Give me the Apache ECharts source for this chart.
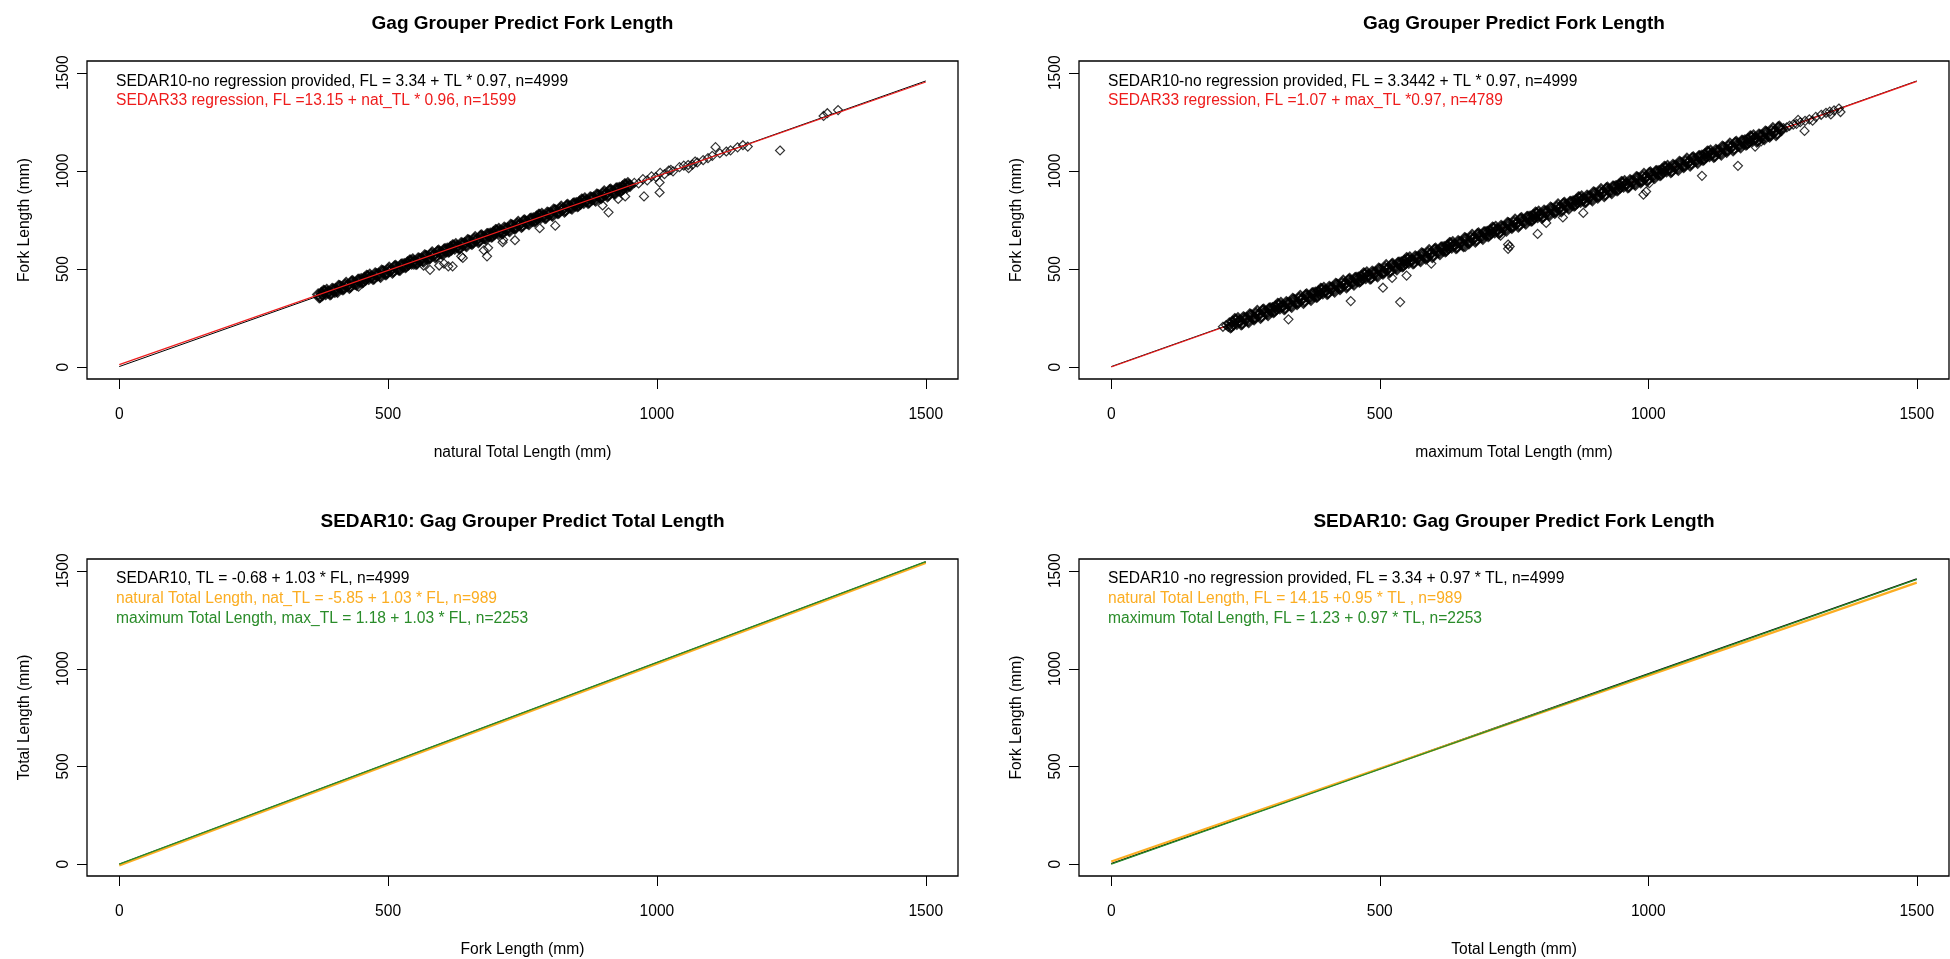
<!DOCTYPE html>
<html>
<head>
<meta charset="utf-8">
<script src="https://cdn.jsdelivr.net/npm/echarts@6/dist/echarts.min.js"></script>
<style>
html,body{margin:0;padding:0;background:#fff;}
#chart{width:1950px;height:959px;}
</style>
</head>
<body>
<div id="chart"></div>
<script>
// ---------------- data ----------------
const tickValues = [0, 500, 1000, 1500];

// Panel 1: natural TL vs FL (scatter)
const natBand = [[370,370],[374,359],[378,368],[382,387],[386,393],[390,381],[394,375],[398,396],[402,397],[406,384],
[410,412],[414,401],[418,402],[422,429],[426,418],[430,411],[434,438],[438,427],[442,420],[446,446],
[450,448],[454,436],[458,445],[462,464],[466,471],[470,459],[474,453],[478,474],[482,475],[486,461],
[490,489],[494,478],[498,480],[502,507],[506,496],[510,489],[514,516],[518,504],[522,497],[526,523],
[530,525],[534,514],[538,523],[542,542],[546,549],[550,537],[554,530],[558,551],[562,552],[566,539],
[570,567],[574,556],[578,558],[582,585],[586,573],[590,566],[594,593],[598,582],[602,575],[606,601],
[610,603],[614,592],[618,600],[622,619],[626,626],[630,614],[634,608],[638,629],[642,630],[646,617],
[650,645],[654,633],[658,635],[662,662],[666,651],[670,644],[674,671],[678,660],[682,653],[686,678],
[690,680],[694,669],[698,678],[702,697],[706,704],[710,692],[714,686],[718,706],[722,707],[726,694],
[730,722],[734,711],[738,713],[742,740],[746,729],[750,721],[754,748],[758,737],[762,730],[766,756],
[770,758],[774,747],[778,756],[782,775],[786,781],[790,769],[794,763],[798,784],[802,785],[806,772],
[810,800],[814,789],[818,790],[822,817],[826,806],[830,799],[834,826],[838,815],[842,808],[846,834],
[850,836],[854,824],[858,833],[862,852],[866,859],[870,847],[874,841],[878,862],[882,863],[886,849],
[890,877],[894,866],[898,868],[902,895],[906,884],[910,877],[914,904],[918,892],[922,885],[926,911],
[930,913],[934,902],[938,911],[942,930],[946,937],[950,924]];
const natBand2 = [[372,356],[376,378],[380,388],[384,373],[388,383],[392,372],[396,399],[400,391],[404,389],[408,414],
[412,409],[416,397],[420,419],[424,415],[428,405],[432,435],[436,431],[440,425],[444,444],[448,436],
[452,433],[456,455],[460,465],[464,450],[468,461],[472,450],[476,477],[480,469],[484,467],[488,491],
[492,486],[496,474],[500,497],[504,493],[508,483],[512,513],[516,509],[520,502],[524,521],[528,513],
[532,511],[536,533],[540,543],[544,528],[548,539],[552,527],[556,554],[560,546],[564,544],[568,569],
[572,564],[576,552],[580,575],[584,571],[588,560],[592,590],[596,586],[600,580],[604,599],[608,591],
[612,589],[616,611],[620,620],[624,605],[628,616],[632,605],[636,632],[640,624],[644,622],[648,647],
[652,641],[656,629],[660,652],[664,648],[668,638],[672,668],[676,664],[680,658],[684,677],[688,668],
[692,666],[696,688],[700,698],[704,683],[708,694],[712,683],[716,710],[720,701],[724,699],[728,724],
[732,719],[736,707],[740,730],[744,726],[748,716],[752,745],[756,741],[760,735],[764,754],[768,746],
[772,744],[776,766],[780,776],[784,761],[788,771],[792,760],[796,787],[800,779],[804,777],[808,802],
[812,797],[816,785],[820,807],[824,803],[828,793],[832,823],[836,819],[840,813],[844,832],[848,824],
[852,821],[856,843],[860,853],[864,838],[868,849],[872,838],[876,865],[880,857],[884,855],[888,879],
[892,874],[896,862],[900,885],[904,881],[908,871],[912,901],[916,897],[920,890],[924,909],[928,901],
[932,899],[936,921],[940,931],[944,916],[948,927]];
const natSparse = [[958,939],[966,936],[974,958],[982,952],[990,972],[998,969],[1006,990],[1014,983],[1022,1002],[1030,998],
[1042,1019],[1050,1027],[1058,1030],[1066,1032],[1075,1043],[1086,1055],[1095,1065],[1103,1077],[1109,1121],[1117,1090],
[1129,1099],[1137,1105],[1150,1120],[1160,1131],[1169,1124],[1229,1104],[1310,1280],[1317,1294],[1337,1310]];
const natOutliers = [[1005,941],[1005,890],[976,870],[941,870],[928,857],[910,789],[899,824],[1026,1005],[1059,1014],[1071,1048],
[811,721],[782,708],[736,647],[714,650],[713,637],[686,608],[684,565],[678,596],[639,557],[636,565],
[620,514],[612,514],[604,528],[595,518],[578,496],[566,518],[445,410],[401,379],[520,492],[548,522]];
const natLineSedar10 = [[0,3.34],[1500,1458.3]];
const natLineSedar33 = [[0,13.15],[1500,1453.2]];

// Panel 2: maximum TL vs FL
const maxBand = [[220,223],[224,207],[228,218],[232,242],[236,249],[240,233],[244,223],[248,249],[252,249],[256,230],
[260,266],[264,250],[268,252],[272,286],[276,270],[280,260],[284,293],[288,277],[292,266],[296,299],
[300,301],[304,285],[308,296],[312,320],[316,327],[320,310],[324,300],[328,326],[332,327],[336,308],
[340,344],[344,328],[348,330],[352,363],[356,347],[360,337],[364,371],[368,355],[372,344],[376,377],
[380,379],[384,362],[388,373],[392,397],[396,404],[400,388],[404,378],[408,404],[412,405],[416,386],
[420,421],[424,405],[428,407],[432,441],[436,425],[440,415],[444,449],[448,433],[452,421],[456,454],
[460,456],[464,440],[468,451],[472,475],[476,482],[480,466],[484,455],[488,481],[492,482],[496,463],
[500,499],[504,483],[508,485],[512,519],[516,503],[520,492],[524,526],[528,510],[532,499],[536,532],
[540,534],[544,518],[548,529],[552,552],[556,559],[560,543],[564,533],[568,559],[572,560],[576,541],
[580,577],[584,560],[588,562],[592,596],[596,580],[600,570],[604,604],[608,588],[612,577],[616,610],
[620,611],[624,595],[628,606],[632,630],[636,637],[640,621],[644,611],[648,637],[652,637],[656,618],
[660,654],[664,638],[668,640],[672,674],[676,658],[680,648],[684,681],[688,665],[692,654],[696,687],
[700,689],[704,673],[708,684],[712,708],[716,715],[720,698],[724,688],[728,714],[732,715],[736,696],
[740,732],[744,716],[748,718],[752,751],[756,735],[760,725],[764,759],[768,743],[772,732],[776,765],
[780,767],[784,750],[788,761],[792,785],[796,792],[800,776],[804,766],[808,792],[812,793],[816,774],
[820,809],[824,793],[828,795],[832,829],[836,813],[840,803],[844,837],[848,821],[852,809],[856,842],
[860,844],[864,828],[868,839],[872,863],[876,870],[880,854],[884,844],[888,869],[892,870],[896,851],
[900,887],[904,871],[908,873],[912,907],[916,891],[920,880],[924,914],[928,898],[932,887],[936,920],
[940,922],[944,906],[948,917],[952,940],[956,947],[960,931],[964,921],[968,947],[972,948],[976,929],
[980,965],[984,949],[988,950],[992,984],[996,968],[1000,958],[1004,992],[1008,976],[1012,965],[1016,998],
[1020,999],[1024,983],[1028,994],[1032,1018],[1036,1025],[1040,1009],[1044,999],[1048,1025],[1052,1025],[1056,1006],
[1060,1042],[1064,1026],[1068,1028],[1072,1062],[1076,1046],[1080,1036],[1084,1069],[1088,1053],[1092,1042],[1096,1075],
[1100,1077],[1104,1061],[1108,1072],[1112,1096],[1116,1103],[1120,1086],[1124,1076],[1128,1102],[1132,1103],[1136,1084],
[1140,1120],[1144,1104],[1148,1106],[1152,1139],[1156,1123],[1160,1113],[1164,1147],[1168,1131],[1172,1120],[1176,1153],
[1180,1155],[1184,1139],[1188,1149],[1192,1173],[1196,1180],[1200,1164],[1204,1154],[1208,1180],[1212,1181],[1216,1162],
[1220,1197],[1224,1181],[1228,1183],[1232,1217],[1236,1201],[1240,1191],[1244,1225],[1248,1209]];
const maxBand2 = [[222,203],[226,231],[230,244],[234,222],[238,235],[242,219],[246,254],[250,242],[254,237],[258,269],
[262,261],[266,244],[270,273],[274,267],[278,252],[282,290],[286,283],[290,274],[294,298],[298,285],
[302,281],[306,309],[310,322],[314,300],[318,312],[322,296],[326,331],[330,319],[334,315],[338,347],
[342,339],[346,322],[350,351],[354,344],[358,329],[362,367],[366,361],[370,352],[374,376],[378,363],
[382,359],[386,386],[390,399],[394,377],[398,390],[402,374],[406,409],[410,397],[414,393],[418,424],
[422,416],[426,399],[430,428],[434,422],[438,407],[442,445],[446,439],[450,430],[454,453],[458,440],
[462,436],[466,464],[470,477],[474,455],[478,468],[482,452],[486,486],[490,474],[494,470],[498,502],
[502,494],[506,477],[510,506],[514,500],[518,484],[522,522],[526,516],[530,507],[534,531],[538,518],
[542,514],[546,542],[550,555],[554,532],[558,545],[562,529],[566,564],[570,552],[574,548],[578,580],
[582,572],[586,554],[590,583],[594,577],[598,562],[602,600],[606,594],[610,585],[614,609],[618,595],
[622,591],[626,619],[630,632],[634,610],[638,623],[642,607],[646,642],[650,630],[654,625],[658,657],
[662,649],[666,632],[670,661],[674,655],[678,640],[682,678],[686,671],[690,662],[694,686],[698,673],
[702,669],[706,697],[710,710],[714,688],[718,700],[722,684],[726,719],[730,707],[734,703],[738,735],
[742,727],[746,710],[750,739],[754,732],[758,717],[762,755],[766,749],[770,740],[774,764],[778,751],
[782,747],[786,774],[790,787],[794,765],[798,778],[802,762],[806,797],[810,785],[814,781],[818,812],
[822,804],[826,787],[830,816],[834,810],[838,795],[842,833],[846,827],[850,818],[854,841],[858,828],
[862,824],[866,852],[870,865],[874,843],[878,856],[882,840],[886,874],[890,862],[894,858],[898,890],
[902,882],[906,865],[910,894],[914,888],[918,872],[922,910],[926,904],[930,895],[934,919],[938,906],
[942,902],[946,930],[950,943],[954,920],[958,933],[962,917],[966,952],[970,940],[974,936],[978,968],
[982,960],[986,942],[990,971],[994,965],[998,950],[1002,988],[1006,982],[1010,973],[1014,997],[1018,983],
[1022,979],[1026,1007],[1030,1020],[1034,998],[1038,1011],[1042,995],[1046,1030],[1050,1018],[1054,1013],[1058,1045],
[1062,1037],[1066,1020],[1070,1049],[1074,1043],[1078,1028],[1082,1066],[1086,1059],[1090,1050],[1094,1074],[1098,1061],
[1102,1057],[1106,1085],[1110,1098],[1114,1076],[1118,1088],[1122,1072],[1126,1107],[1130,1095],[1134,1091],[1138,1123],
[1142,1115],[1146,1098],[1150,1127],[1154,1120],[1158,1105],[1162,1143],[1166,1137],[1170,1128],[1174,1152],[1178,1139],
[1182,1135],[1186,1162],[1190,1175],[1194,1153],[1198,1166],[1202,1150],[1206,1185],[1210,1173],[1214,1169],[1218,1200],
[1222,1192],[1226,1175],[1230,1204],[1234,1198],[1238,1183],[1242,1221],[1246,1215]];
const maxSparse = [[208,206],[214,214],[218,205],[1252,1218],[1258,1222],[1263,1230],[1270,1236],[1276,1240],[1279,1260],[1283,1248],
[1292,1255],[1300,1263],[1306,1256],[1312,1275],[1322,1286],[1331,1296],[1338,1302],[1340,1288],[1346,1308],[1355,1318],[1358,1300]];
const maxOutliers = [[330,244],[446,337],[538,332],[506,405],[523,455],[550,467],[596,528],[659,613],[725,670],[739,625],
[739,603],[742,615],[794,679],[810,735],[841,763],[879,786],[991,879],[996,895],[1002,938],[1100,975],
[1167,1026],[1199,1124],[1291,1204],[1210,1150],[1185,1140]];
const maxLineSedar10 = [[0,3.34],[1500,1458.3]];
const maxLineSedar33 = [[0,1.07],[1500,1456.1]];

// Panel 3: predict TL from FL
const tlSedar10 = [[0,-0.68],[1500,1544.3]];
const tlNatural = [[0,-5.85],[1500,1539.2]];
const tlMaximum = [[0,1.18],[1500,1546.2]];

// Panel 4: predict FL from TL
const flSedar10 = [[0,3.34],[1500,1458.3]];
const flNatural = [[0,14.15],[1500,1439.2]];
const flMaximum = [[0,1.23],[1500,1456.2]];

const xNames = ['natural Total Length (mm)', 'maximum Total Length (mm)', 'Fork Length (mm)', 'Total Length (mm)'];
const yNames = ['Fork Length (mm)', 'Fork Length (mm)', 'Total Length (mm)', 'Fork Length (mm)'];

// ---------------- styling / layout ----------------
const FONT = '"Liberation Sans", Arial, Helvetica, sans-serif';
const FS = 15.6;
const RED = '#ee1c1c', ORANGE = '#fbad22', GREEN = '#2a8c2a', BLACK = '#000';
const AXMIN = -60, AXMAX = 1560, TICKLEN = 10;
const boxes = [[87, 61, 871, 318], [1079, 61, 870, 318], [87, 559, 871, 318], [1079, 559, 870, 318]];

const grids = boxes.map(b => ({left: b[0], top: b[1], width: b[2], height: b[3], show: true,
  borderColor: '#000', borderWidth: 1.3, backgroundColor: 'transparent'}));

const labelStyle = {fontSize: FS, fontFamily: FONT, color: '#000'};
const xAxes = [0, 1, 2, 3].map(p => ({
  gridIndex: p, type: 'value', min: AXMIN, max: AXMAX,
  axisLine: {show: false, onZero: false},
  axisTick: {show: false},
  splitLine: {show: false},
  axisLabel: Object.assign({customValues: tickValues, formatter: v => String(v), margin: 28}, labelStyle),
  name: xNames[p], nameLocation: 'middle', nameGap: 66, nameTextStyle: labelStyle
}));
const yAxes = [0, 1, 2, 3].map(p => ({
  gridIndex: p, type: 'value', min: AXMIN, max: AXMAX,
  axisLine: {show: false, onZero: false},
  axisTick: {show: false},
  splitLine: {show: false},
  axisLabel: Object.assign({customValues: tickValues, formatter: v => String(v), rotate: 90, margin: 15}, labelStyle),
  name: yNames[p], nameLocation: 'middle', nameGap: 54, nameTextStyle: labelStyle
}));

function scatterS(idx, data, z, dense) {
  return {type: 'scatter', xAxisIndex: idx, yAxisIndex: idx, data: data, symbol: 'diamond', symbolSize: dense ? 10 : 9,
    itemStyle: {color: 'rgba(0,0,0,0)', borderColor: '#000', borderWidth: dense ? 2.1 : 1.2}, silent: true, z: z};
}
function lineS(idx, data, color, width, z) {
  return {type: 'line', xAxisIndex: idx, yAxisIndex: idx, data: data, symbol: 'none', silent: true,
    lineStyle: {color: color, width: width}, z: z};
}
function txt(x, y, text, color, opts) {
  opts = opts || {};
  return {type: 'text', x: x, y: y, silent: true, z: 100,
    style: {text: text, fill: color, fontSize: opts.size || FS, fontFamily: FONT, fontWeight: opts.weight || 'normal',
      align: opts.align || 'left', verticalAlign: 'middle', textAlign: opts.align || 'left', textVerticalAlign: 'middle'}};
}

const texts = [
  txt(522.5, 23.3, 'Gag Grouper Predict Fork Length', '#000', {size: 19, weight: 'bold', align: 'center'}),
  txt(1514, 23.3, 'Gag Grouper Predict Fork Length', '#000', {size: 19, weight: 'bold', align: 'center'}),
  txt(522.5, 521.7, 'SEDAR10: Gag Grouper Predict Total Length', '#000', {size: 19, weight: 'bold', align: 'center'}),
  txt(1514, 521.7, 'SEDAR10: Gag Grouper Predict Fork Length', '#000', {size: 19, weight: 'bold', align: 'center'}),

  txt(116, 81.7, 'SEDAR10-no regression provided, FL = 3.34 + TL * 0.97, n=4999', '#000'),
  txt(116, 101, 'SEDAR33 regression, FL =13.15 + nat_TL * 0.96, n=1599', RED),

  txt(1108, 81.7, 'SEDAR10-no regression provided, FL = 3.3442 + TL * 0.97, n=4999', '#000'),
  txt(1108, 101, 'SEDAR33 regression, FL =1.07 + max_TL *0.97, n=4789', RED),

  txt(116, 579, 'SEDAR10, TL = -0.68 + 1.03 * FL, n=4999', '#000'),
  txt(116, 598.7, 'natural Total Length, nat_TL = -5.85 + 1.03 * FL, n=989', ORANGE),
  txt(116, 618.3, 'maximum Total Length, max_TL = 1.18 + 1.03 * FL, n=2253', GREEN),

  txt(1108, 579, 'SEDAR10 -no regression provided, FL = 3.34 + 0.97 * TL, n=4999', '#000'),
  txt(1108, 598.7, 'natural Total Length, FL = 14.15 +0.95 * TL , n=989', ORANGE),
  txt(1108, 618.3, 'maximum Total Length, FL = 1.23 + 0.97 * TL, n=2253', GREEN)
];

const option = {
  animation: false,
  backgroundColor: '#fff',
  grid: grids,
  xAxis: xAxes,
  yAxis: yAxes,
  series: [
    scatterS(0, natBand, 2, true), scatterS(0, natBand2, 2, true), scatterS(0, natSparse, 2), scatterS(0, natOutliers, 2),
    lineS(0, natLineSedar10, BLACK, 1, 3), lineS(0, natLineSedar33, RED, 1.2, 4),

    lineS(1, maxLineSedar10, BLACK, 1, 2), lineS(1, maxLineSedar33, RED, 1.2, 2),
    scatterS(1, maxBand, 3, true), scatterS(1, maxBand2, 3, true), scatterS(1, maxSparse, 3), scatterS(1, maxOutliers, 3),

    lineS(2, tlSedar10, BLACK, 1.5, 2), lineS(2, tlNatural, ORANGE, 2.2, 3), lineS(2, tlMaximum, GREEN, 1.3, 4),
    lineS(3, flSedar10, BLACK, 1.5, 2), lineS(3, flNatural, ORANGE, 2.2, 3), lineS(3, flMaximum, GREEN, 1.3, 4)
  ],
  graphic: {elements: texts}
};

const chart = echarts.init(document.getElementById('chart'), null, {renderer: 'canvas', width: 1950, height: 959});
chart.setOption(option);

// R-style outward tick marks, positioned through each panel's own axis scales
const tickEls = [];
for (let p = 0; p < 4; p++) {
  tickValues.forEach(v => {
    const pb = chart.convertToPixel({gridIndex: p}, [v, AXMIN]);
    const pl = chart.convertToPixel({gridIndex: p}, [AXMIN, v]);
    if (pb) {
      const x = Math.round(pb[0]) + 0.5;
      tickEls.push({type: 'line', silent: true, z: 100,
        shape: {x1: x, y1: pb[1], x2: x, y2: pb[1] + TICKLEN}, style: {stroke: '#000', lineWidth: 1}});
    }
    if (pl) {
      const y = Math.round(pl[1]) + 0.5;
      tickEls.push({type: 'line', silent: true, z: 100,
        shape: {x1: pl[0], y1: y, x2: pl[0] - TICKLEN, y2: y}, style: {stroke: '#000', lineWidth: 1}});
    }
  });
}
chart.setOption({graphic: {elements: texts.concat(tickEls)}});
</script>
</body>
</html>
